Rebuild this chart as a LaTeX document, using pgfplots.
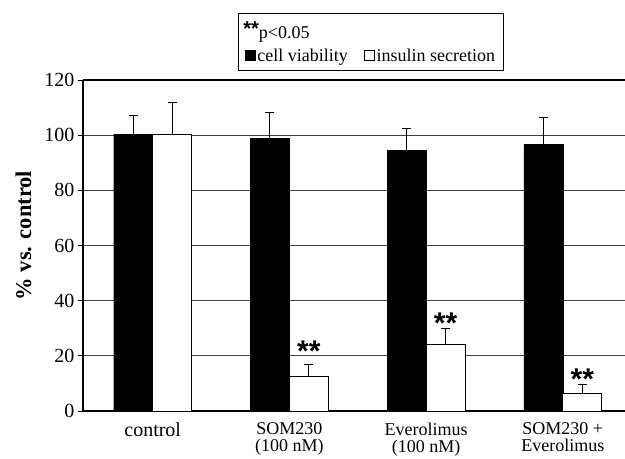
\documentclass[border=0pt]{standalone}
\usepackage{fontspec}
\setmainfont{Liberation Serif}
\setsansfont{Liberation Sans}
\usepackage{pgfplots}
\pgfplotsset{compat=1.18}
\begin{document}
\begin{tikzpicture}[x=1bp,y=1bp]
\useasboundingbox (0,0) rectangle (625,459);
\begin{axis}[
  at={(83bp,48bp)}, anchor=south west, scale only axis,
  width=542bp, height=331bp,
  xmin=-0.51, xmax=3.455, ymin=0, ymax=120,
  ybar=0pt, bar width=39bp,
  axis x line*=bottom, axis y line*=left,
  axis line style={-, black, line width=1.4bp},
  ytick={0,20,...,120},
  ymajorgrids, grid style={black!75, line width=0.8bp},
  tick align=outside, major tick length=5bp,
  y tick style={black, line width=0.8bp},
  x tick style={draw=none},
  xtick={0,1,2,3},
  xticklabels={{\fontsize{20bp}{18bp}\selectfont control},{SOM230\\(100 nM)},{Everolimus\\(100 nM)},{SOM230 +\\Everolimus}},
  xticklabel style={align=center, font=\fontsize{18bp}{17.5bp}\selectfont, yshift=-3bp},
  yticklabel style={font=\fontsize{20bp}{22bp}\selectfont},
  /pgf/number format/assume math mode=true,
  ylabel={\bfseries\% vs. control},
  ylabel style={font=\fontsize{22.5bp}{26bp}\selectfont, at={(axis description cs:-0.11,0.53)}, anchor=center},
  legend columns=2,
  legend cell align=left,
  legend style={at={(axis description cs:0.286,1.2024)}, anchor=north west, draw=black, line width=1.2bp,
    font=\fontsize{18bp}{22bp}\selectfont, inner xsep=6bp, inner ysep=6bp, row sep=5bp},
  legend image code/.code={\draw[#1, line width=0.8bp] (0bp,-5bp) rectangle (10bp,5bp);},
]
\addlegendimage{empty legend}
\addlegendentry{\hspace*{-14bp}\raisebox{3bp}{\sffamily\bfseries\fontsize{20bp}{20bp}\selectfont **}p<0.05}
\addlegendimage{empty legend}
\addlegendentry{}
\addplot[fill=black, draw=black, bar shift=-19.5bp,
  error bars/.cd, y dir=plus, y explicit,
  error bar style={line width=0.9bp, black},
  error mark options={rotate=90, mark size=4.5bp, line width=0.9bp, black}]
  coordinates {(0,100.4) +- (0,6.6) (1,98.9) +- (0,9.3) (2,94.6) +- (0,8.0) (3,96.6) +- (0,9.9)};
\addlegendentry{cell viability\hspace*{14bp}}
\addplot[fill=white, draw=black, line width=0.8bp, bar shift=19.5bp,
  error bars/.cd, y dir=plus, y explicit,
  error bar style={line width=0.9bp, black},
  error mark options={rotate=90, mark size=4.5bp, line width=0.9bp, black}]
  coordinates {(0,100.4) +- (0,11.4) (1,12.4) +- (0,4.5) (2,24.2) +- (0,5.8) (3,6.2) +- (0,3.6)};
\addlegendentry{insulin secretion}
\addplot[draw=none, fill=none, bar shift=19.5bp, forget plot,
  point meta=explicit symbolic, nodes near coords,
  every node near coord/.append style={anchor=base, inner sep=0pt,
    font=\sffamily\bfseries\fontsize{30bp}{30bp}\selectfont}]
  coordinates {(1,18.0) [**] (2,28.2) [**] (3,7.9) [**]};
\draw[black, line width=1.4bp] (rel axis cs:0,1) -- (rel axis cs:1,1);
\end{axis}
\end{tikzpicture}
\end{document}
